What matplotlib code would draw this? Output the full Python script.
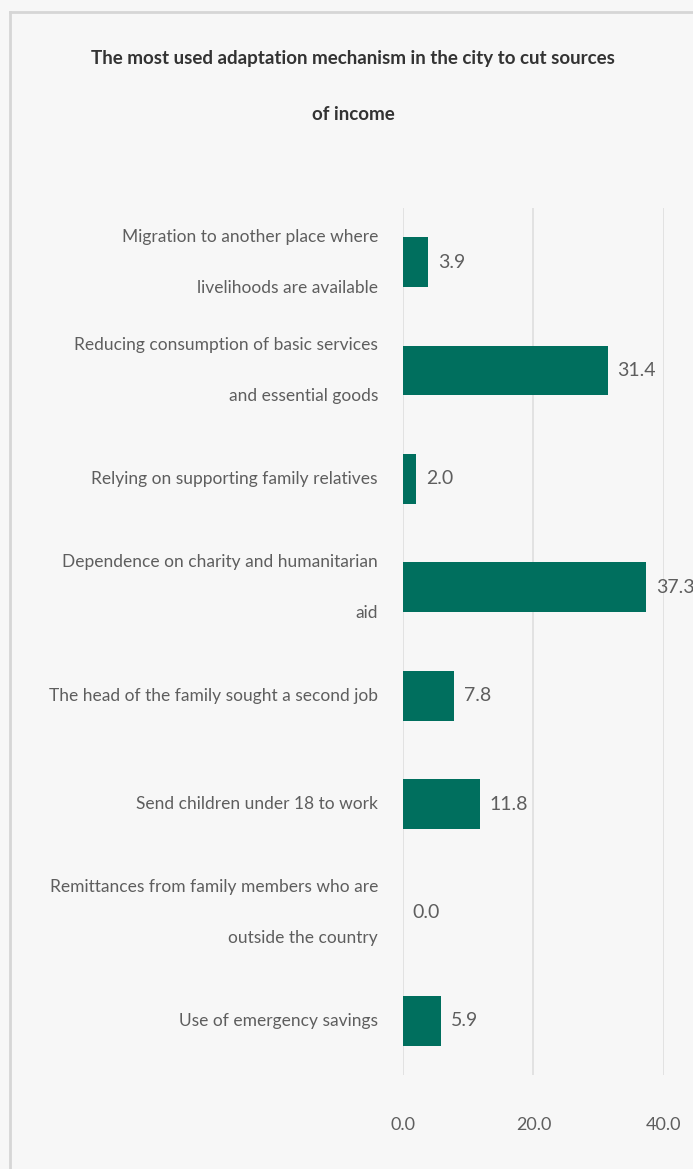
import matplotlib.pyplot as plt
from matplotlib.lines import Line2D

# chart data
categories = [
    "Migration to another place where\nlivelihoods are available",
    "Reducing consumption of basic services\nand essential goods",
    "Relying on supporting family relatives",
    "Dependence on charity and humanitarian\naid",
    "The head of the family sought a second job",
    "Send children under 18 to work",
    "Remittances from family members who are\noutside the country",
    "Use of emergency savings",
]
values = [3.9, 31.4, 2.0, 37.3, 7.8, 11.8, 0.0, 5.9]
xticks = [0, 20, 40]

TITLE = "The most used adaptation mechanism in the city to cut sources\nof income"
BAR_COLOR = "#006f5e"
TEXT_COLOR = "#5e5e5e"
BG = "#f7f7f7"
FONT = ["Lato", "DejaVu Sans"]

fig = plt.figure(figsize=(6.93, 11.69), dpi=100)
fig.patch.set_facecolor(BG)
ax = fig.add_axes([0.5815, 0.0804, 0.3766, 0.7417])
ax.set_facecolor(BG)

ypos = list(range(len(values)))
ax.barh(ypos, values, height=0.46, color=BAR_COLOR, zorder=3)

for y, v in zip(ypos, values):
    ax.annotate(f"{v:.1f}", (v, y), xytext=(7, 0), textcoords="offset points",
                va="center", ha="left", fontsize=14, color=TEXT_COLOR,
                family=FONT, annotation_clip=False)

ax.set_xlim(0, 40)
ax.set_ylim(len(values) - 0.5, -0.5)
ax.set_xticks(xticks)
ax.set_xticklabels([f"{t:.1f}" for t in xticks], family=FONT, fontsize=13, color=TEXT_COLOR)
ax.set_yticks(ypos)
ax.set_yticklabels(categories, family=FONT, fontsize=12.5, color=TEXT_COLOR,
                   ha="right", va="center")
for lbl in ax.get_yticklabels():
    lbl.set_linespacing(3.7)
ax.tick_params(axis="x", length=0, pad=30)
ax.tick_params(axis="y", length=0, pad=18)

ax.grid(axis="x", color="#dedede", linewidth=1.2, zorder=0)
for s in ax.spines.values():
    s.set_visible(False)

fig.text(0.51, 0.926, TITLE, ha="center", va="center", fontsize=13.5,
         fontweight="bold", family=FONT, color="#333333", linespacing=3.8)

# outer frame (top and left edges)
fig.add_artist(Line2D([0.0144, 1.0], [0.9897, 0.9897], color="#d6d6d6", lw=2))
fig.add_artist(Line2D([0.0144, 0.0144], [0.0, 0.9897], color="#d6d6d6", lw=2))

fig.savefig("out.png", dpi=100, facecolor=BG)
